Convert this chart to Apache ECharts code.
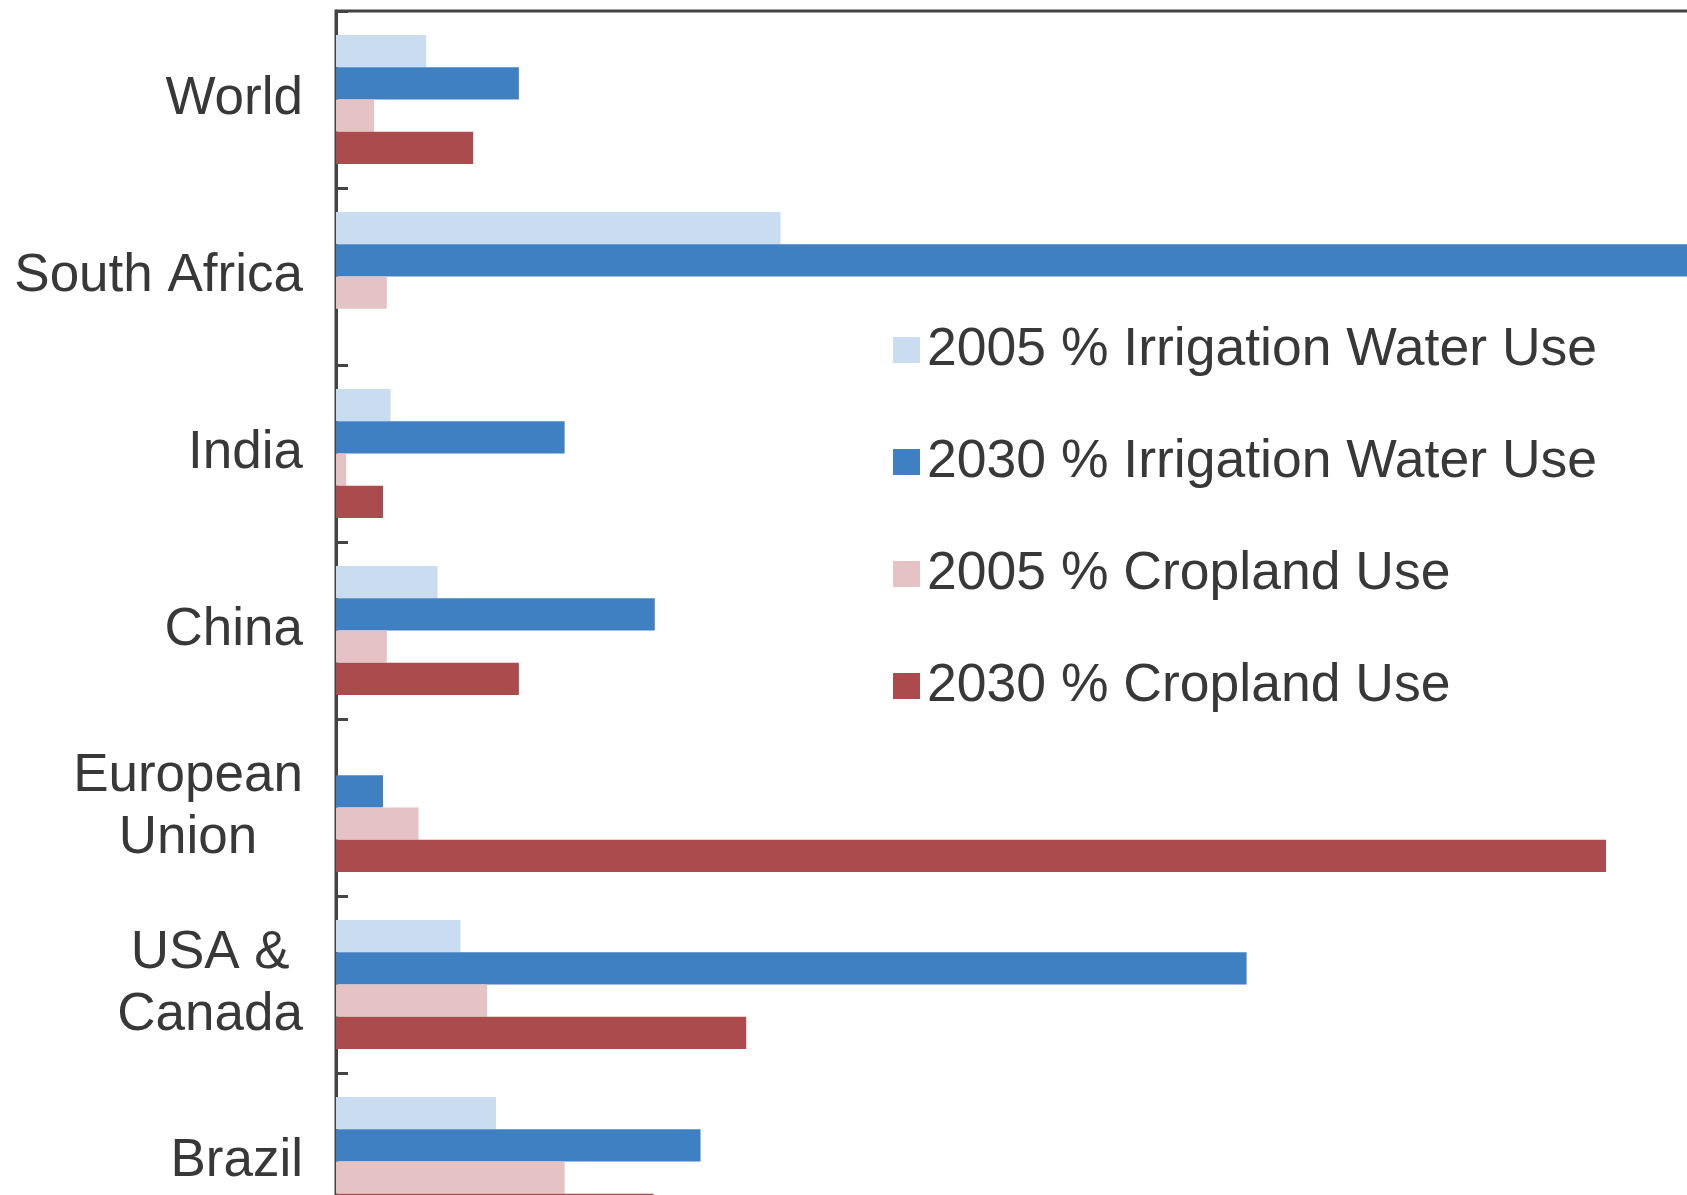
<!DOCTYPE html>
<html>
<head>
<meta charset="utf-8">
<script src="https://cdn.jsdelivr.net/npm/echarts@6/dist/echarts.min.js"></script>
<style>
html,body{margin:0;padding:0;background:#ffffff;}
#chart{width:1687px;height:1195px;}
</style>
</head>
<body>
<div id="chart"></div>
<script>
var categories = ['World', 'South Africa', 'India', 'China', 'European\nUnion', 'USA &\nCanada', 'Brazil'];
var seriesNames = ['2005 % Irrigation Water Use', '2030 % Irrigation Water Use', '2005 % Cropland Use', '2030 % Cropland Use'];
var irrigation2005 = [7.1, 35.0, 4.3, 8.0, 0, 9.8, 12.6];
var irrigation2030 = [14.4, 115, 18.0, 25.1, 3.7, 71.7, 28.7];
var cropland2005 = [3.0, 4.0, 0.8, 4.0, 6.5, 11.9, 18.0];
var cropland2030 = [10.8, 0, 3.7, 14.4, 100, 32.3, 25.0];
var colors = ['#cadcf0', '#3f80c3', '#e5c3c4', '#ab4b4d'];

var chart = echarts.init(document.getElementById('chart'));
var dataSets = [irrigation2005, irrigation2030, cropland2005, cropland2030];
var series = dataSets.map(function (d, i) {
  return {
    name: seriesNames[i],
    type: 'bar',
    data: d,
    itemStyle: { color: colors[i] },
    barGap: '0%',
    barCategoryGap: '27%',
    animation: false
  };
});

chart.setOption({
  animation: false,
  backgroundColor: '#ffffff',
  textStyle: { fontFamily: 'Liberation Sans, Arial, sans-serif' },
  grid: {
    left: 336, top: 11, width: 1524, height: 1239,
    outerBoundsMode: 'none', containLabel: false,
    show: true, borderColor: '#444', borderWidth: 3, backgroundColor: 'transparent'
  },
  legend: {
    orient: 'vertical',
    left: 888, top: 315,
    itemWidth: 27, itemHeight: 26, itemGap: 52,
    icon: 'rect',
    data: seriesNames,
    textStyle: { fontSize: 53.5, color: '#383838', lineHeight: 60, padding: [0, 0, 0, 2] }
  },
  xAxis: {
    type: 'value', min: 0, max: 120, show: false,
    splitLine: { show: false }
  },
  yAxis: {
    type: 'category', data: categories, inverse: true,
    axisLine: { lineStyle: { color: '#444', width: 3 } },
    axisTick: { show: true, inside: true, length: 12, lineStyle: { color: '#444', width: 3 } },
    axisLabel: {
      margin: 33, fontSize: 53, color: '#383838', lineHeight: 62,
      formatter: function (v) {
        return v.split('\n').map(function (s) { return '{c|' + s + '}'; }).join('\n');
      },
      rich: { c: { align: 'center', fontSize: 53, lineHeight: 62, color: '#383838' } }
    }
  },
  series: series
});
</script>
</body>
</html>
